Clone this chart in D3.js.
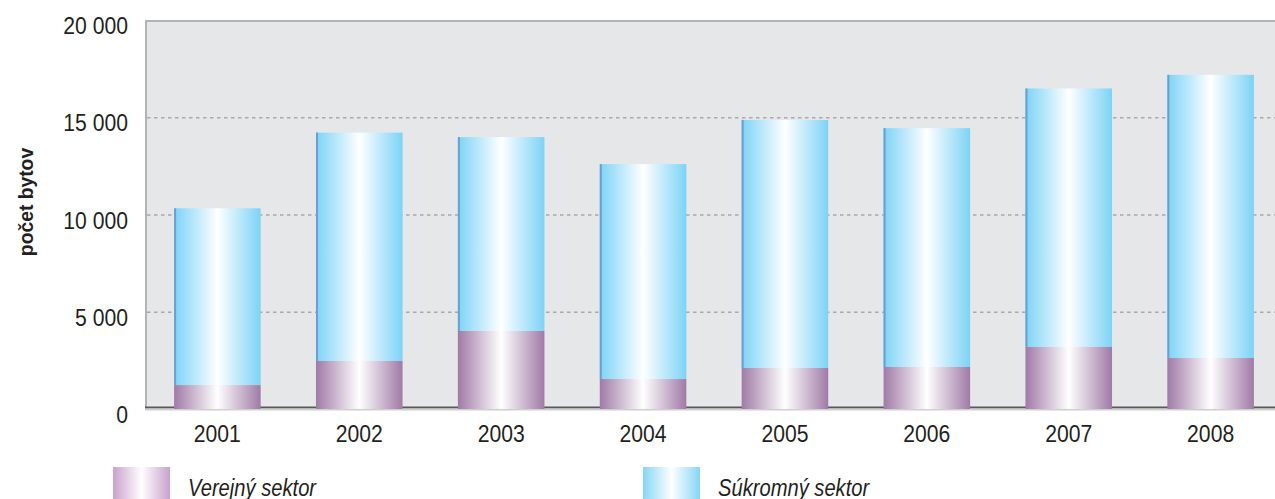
<!DOCTYPE html>
<html>
<head>
<meta charset="utf-8">
<script src="https://cdn.jsdelivr.net/npm/d3@7"></script>
<style>
  body { margin: 0; background: #fff; }
  svg { display: block; }
  text { font-family: "Liberation Sans", Arial, sans-serif; fill: #231f20; }
</style>
</head>
<body>
<script>
const width = 1275;
const height = 499;
const margin = ({top: 20, right: -8, bottom: 90, left: 145})

// data
const years = ["2001", "2002", "2003", "2004", "2005", "2006", "2007", "2008"];
const verejny = [1230, 2470, 4010, 1540, 2110, 2160, 3190, 2620];
const spolu = [10320, 14210, 13980, 12590, 14860, 14440, 16480, 17180];
const yTicks = [0, 5000, 10000, 15000, 20000];
const seriesNames = ["Verejný sektor", "Súkromný sektor"];

// condensed look: Liberation Sans squeezed horizontally
const squeeze = 0.9;

let svg = null;
let x = null;
let y = null;

function initializeScales() {
    x = d3.scaleBand()
    .domain(years)
    .range([margin.left, width - margin.right])
    .paddingInner(0.39)
    .paddingOuter(0.205)

    y = d3.scaleLinear()
    .domain([0, 20000])
    .range([height - margin.bottom, margin.top])
}

function addGradient(defs, id, edge) {
    const g = defs.append("linearGradient")
        .attr("id", id)
        .attr("x1", 0).attr("x2", 1).attr("y1", 0).attr("y2", 0);
    g.append("stop").attr("offset", "0%").attr("stop-color", edge);
    g.append("stop").attr("offset", "50%").attr("stop-color", "#ffffff");
    g.append("stop").attr("offset", "100%").attr("stop-color", edge);
}

function initializeSvg() {
    svg = d3.select("body")
    .append("svg")
    .attr("width", width)
    .attr("height", height);

    const defs = svg.append("defs");
    addGradient(defs, "gradPub", "#a07aa6");
    addGradient(defs, "gradPriv", "#7cd3f6");
    addGradient(defs, "gradPubLeg", "#c9a1cd");
    addGradient(defs, "gradPrivLeg", "#86d6f6");

    const y0 = y(0);

    // plot background
    svg.append("rect")
        .attr("x", margin.left)
        .attr("y", y(20000))
        .attr("width", width - margin.left)
        .attr("height", y0 - y(20000))
        .attr("fill", "#e6e7e9");

    // frame left + top
    svg.append("path")
        .attr("d", `M${margin.left + 1},${y0}V${y(20000) + 1}H${width}`)
        .attr("fill", "none")
        .attr("stroke", "#b3b3b3")
        .attr("stroke-width", 2);

    // dashed grid
    svg.append("g")
        .selectAll("line")
        .data(yTicks.filter(d => d > 0 && d < 20000))
        .join("line")
        .attr("x1", margin.left + 2)
        .attr("x2", width)
        .attr("y1", d => y(d) + 0.5)
        .attr("y2", d => y(d) + 0.5)
        .attr("stroke", "#a9a9a9")
        .attr("stroke-width", 1.5)
        .attr("stroke-dasharray", "3.5,3.5");

    // bottom axis line
    svg.append("line")
        .attr("x1", margin.left)
        .attr("x2", width)
        .attr("y1", y0 - 1.5)
        .attr("y2", y0 - 1.5)
        .attr("stroke", "#58595b")
        .attr("stroke-width", 2);
    svg.append("line")
        .attr("x1", margin.left)
        .attr("x2", width)
        .attr("y1", y0 + 0.5)
        .attr("y2", y0 + 0.5)
        .attr("stroke", "#cfcfcf")
        .attr("stroke-width", 2);

    const bars = svg.append("g")
        .selectAll("g")
        .data(years)
        .join("g");

    bars.append("rect")
        .attr("x", d => x(d))
        .attr("y", (d, i) => y(spolu[i]))
        .attr("width", x.bandwidth())
        .attr("height", (d, i) => y(verejny[i]) - y(spolu[i]))
        .attr("fill", "url(#gradPriv)");

    bars.append("rect")
        .attr("x", d => x(d))
        .attr("y", (d, i) => y(spolu[i]))
        .attr("width", 2)
        .attr("height", (d, i) => y(verejny[i]) - y(spolu[i]))
        .attr("fill", "#6b9fd2");

    bars.append("rect")
        .attr("x", d => x(d))
        .attr("y", (d, i) => y(verejny[i]))
        .attr("width", x.bandwidth())
        .attr("height", (d, i) => y0 - y(verejny[i]))
        .attr("fill", "url(#gradPub)");

    // y tick labels (they sit just under their line, as in the original)
    svg.append("g")
        .selectAll("text")
        .data(yTicks)
        .join("text")
        .attr("transform", d => `translate(128,${y(d) + 14}) scale(${squeeze},1)`)
        .attr("text-anchor", "end")
        .attr("font-size", 23.5)
        .text(d => d3.format(",")(d).replace(/,/g, " "));

    // x labels
    svg.append("g")
        .selectAll("text")
        .data(years)
        .join("text")
        .attr("transform", d => `translate(${x(d) + x.bandwidth() / 2},${y0 + 33}) scale(${squeeze},1)`)
        .attr("text-anchor", "middle")
        .attr("font-size", 23.5)
        .text(d => d);

    // y title
    svg.append("text")
        .attr("transform", `translate(33,202) rotate(-90) scale(0.92,1)`)
        .attr("text-anchor", "middle")
        .attr("font-size", 21)
        .attr("font-weight", "bold")
        .text("počet bytov");
}

function legend() {
    const items = [
        {name: seriesNames[0], fill: "url(#gradPubLeg)", x: 113},
        {name: seriesNames[1], fill: "url(#gradPrivLeg)", x: 643}
    ];
    const g = svg.append("g")
        .selectAll("g")
        .data(items)
        .join("g")
        .attr("transform", d => `translate(${d.x},467)`);

    g.append("rect")
        .attr("width", 57)
        .attr("height", 32)
        .attr("fill", d => d.fill);

    g.append("text")
        .attr("transform", "translate(75,29) scale(0.84,1)")
        .attr("font-size", 24)
        .attr("font-style", "italic")
        .text(d => d.name);
}

initializeScales();
initializeSvg();
legend();
</script>
</body>
</html>
